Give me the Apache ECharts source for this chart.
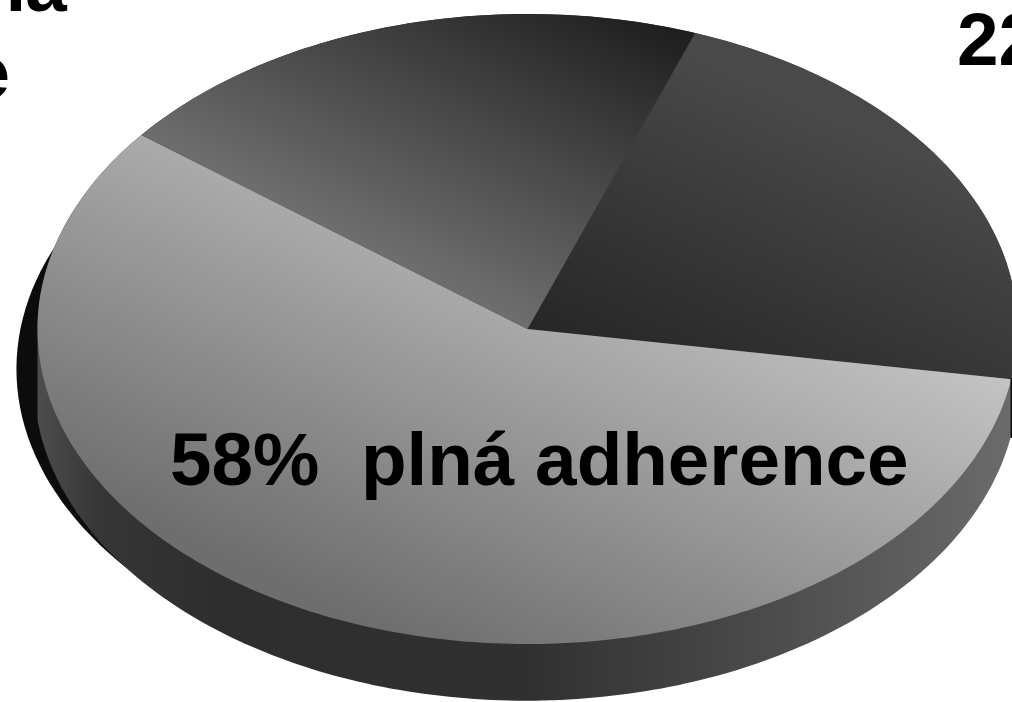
<!DOCTYPE html>
<html>
<head>
<meta charset="utf-8">
<style>html,body{margin:0;padding:0;background:#fff}#c{width:1012px;height:702px}</style>
<script src="https://cdn.jsdelivr.net/npm/echarts@6/dist/echarts.min.js"></script>
</head>
<body>
<div id="c"></div>
<script>
const sliceNames = ['22', '58%  plná adherence', 'ná e'];
const sliceValues = [22, 58, 20];
const startAngle = 20;
const wallTexts = ['22', '58%  plná adherence', 'ná', 'e'];

const grad = (x, y, x2, y2, stops) => new echarts.graphic.LinearGradient(
  x, y, x2, y2, stops.map(s => ({offset: s[0], color: s[1]})), true);
const sliceFills = [
  grad(527, 330, 657, 41, [[0, '#262626'], [1, '#494949']]),
  grad(389, 631, 592, 189, [[0, '#6e6e6e'], [1, '#c3c3c3']]),
  grad(690, 35, 540, 341, [[0, '#1e1e1e'], [1, '#707070']])
];
const wallFill = grad(40, 0, 1012, 0, [
  [0, '#4c4c4c'], [0.06, '#363636'], [0.18, '#2e2e2e'], [0.5, '#303030'],
  [0.72, '#484848'], [1, '#6b6b6b']
]);

let acc = 0;
const sliceRows = sliceValues.map(v => {
  const row = [acc, acc + v];
  acc += v;
  return row;
});

// unit-circle point, clockwise from 12 o'clock, in percent
const rim = (p) => {
  const a = (startAngle + p * 3.6) * Math.PI / 180;
  return [Math.sin(a), Math.cos(a)];
};

const chart = echarts.init(document.getElementById('c'), null, {renderer: 'canvas'});
chart.setOption({
  animation: false,
  backgroundColor: '#ffffff',
  grid: {left: 37.5, top: 14, width: 980, height: 630, containLabel: false, outerBoundsMode: 'none'},
  xAxis: {type: 'value', min: -1, max: 1, show: false},
  yAxis: {type: 'value', min: -1, max: 1, show: false},
  series: [
    {
      name: 'shadow', type: 'custom', coordinateSystem: 'cartesian2d', clip: false, z: 1,
      data: [[-0.043, -0.127]],
      renderItem: (params, api) => {
        const pts = [];
        for (let i = 0; i < 200; i++) {
          const r = rim(i / 2);
          pts.push(api.coord([r[0] + api.value(0), r[1] + api.value(1)]));
        }
        return {type: 'polygon', shape: {points: pts}, style: {fill: '#0c0c0c'}};
      }
    },
    {
      name: 'wall', type: 'custom', coordinateSystem: 'cartesian2d', clip: false, z: 2,
      data: [[-0.003, -0.17, 1.004, 1.01]],
      renderItem: (params, api) => {
        const pts = [];
        const n = 180;
        for (let i = 0; i <= n; i++) {
          const a = i / n * Math.PI;
          pts.push(api.coord([Math.cos(a), Math.sin(a)]));
        }
        for (let i = 0; i <= n; i++) {
          const a = Math.PI + i / n * Math.PI;
          const x = api.value(0) + api.value(2) * Math.cos(a);
          const y = api.value(1) + api.value(3) * Math.sin(a);
          pts.push(api.coord([Math.max(-1, Math.min(1, x)), y]));
        }
        return {type: 'polygon', shape: {points: pts}, style: {fill: wallFill}};
      }
    },
    {
      name: 'adherence', type: 'custom', coordinateSystem: 'cartesian2d', clip: false, z: 3,
      data: sliceRows.map((r, i) => ({name: sliceNames[i], value: r})),
      renderItem: (params, api) => {
        const s = api.value(0), e = api.value(1);
        const pts = [api.coord([0, 0])];
        const n = Math.ceil((e - s) * 4);
        for (let i = 0; i <= n; i++) {
          pts.push(api.coord(rim(s + (e - s) * i / n)));
        }
        return {type: 'polygon', shape: {points: pts}, style: {fill: sliceFills[params.dataIndex]}};
      }
    }
  ],
  graphic: [
    {type: 'rect', z: 5, shape: {x: 1010.5, y: 378, width: 1.5, height: 60}, style: {fill: '#0c0c0c'}},
    {type: 'text', z: 10, x: 170, y: 502, style: {text: wallTexts[1], font: 'bold 74.67px "Liberation Sans", Arial, sans-serif', fill: '#000', verticalAlign: 'bottom', align: 'left'}},
    {type: 'text', z: 10, x: 957, y: 82, style: {text: wallTexts[0], font: 'bold 74.67px "Liberation Sans", Arial, sans-serif', fill: '#000', verticalAlign: 'bottom', align: 'left'}},
    {type: 'text', z: 10, x: 67, y: 28, style: {text: wallTexts[2], font: 'bold 74.67px "Liberation Sans", Arial, sans-serif', fill: '#000', verticalAlign: 'bottom', align: 'right'}},
    {type: 'text', z: 10, x: 10, y: 115, style: {text: wallTexts[3], font: 'bold 74.67px "Liberation Sans", Arial, sans-serif', fill: '#000', verticalAlign: 'bottom', align: 'right'}}
  ]
});
</script>
</body>
</html>
